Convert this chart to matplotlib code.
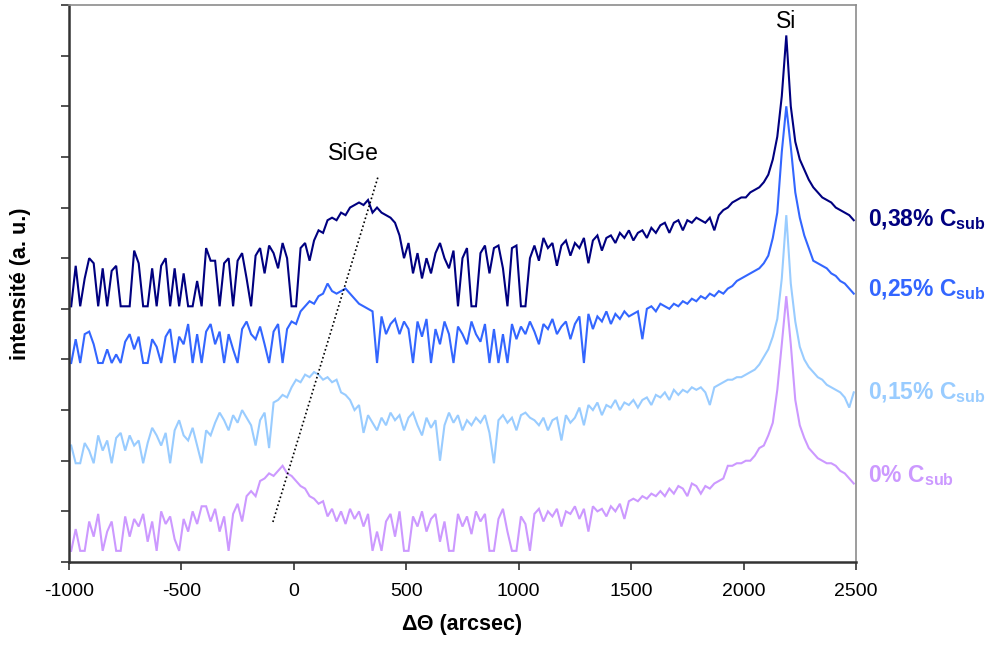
import numpy as np
import matplotlib
matplotlib.use("Agg")
import matplotlib.pyplot as plt

plt.rcParams['font.family'] = ['Liberation Sans', 'DejaVu Sans']
plt.rcParams['axes.unicode_minus'] = False
plt.rcParams['mathtext.fontset'] = 'custom'
plt.rcParams['mathtext.rm'] = 'Liberation Sans'
plt.rcParams['mathtext.bf'] = 'Liberation Sans:bold'

# angle grid (arcsec), one reading every 20 arcsec
theta = np.arange(-990, 2491, 20)

# intensities (a.u., vertically offset curves as drawn)
c038 = [5.05, 5.85, 5.05, 5.6, 6.0, 5.9, 5.05, 5.8, 5.05, 5.75,
        5.85, 5.05, 5.05, 5.05, 6.15, 5.9, 5.05, 5.05, 5.8, 5.05,
        5.85, 6.0, 5.05, 5.8, 5.05, 5.7, 5.05, 5.05, 5.55, 5.05,
        6.2, 5.95, 5.95, 5.05, 5.9, 6.0, 5.05, 5.95, 6.1, 5.6,
        5.05, 6.05, 6.2, 5.7, 6.25, 6.1, 5.8, 6.3, 6.0, 5.05,
        5.05, 6.2, 6.3, 5.95, 6.35, 6.55, 6.5, 6.75, 6.8, 6.75,
        6.9, 6.85, 7.0, 7.05, 7.1, 7.05, 7.15, 6.9, 7.0, 6.9,
        6.85, 6.8, 6.7, 6.45, 6.0, 6.3, 5.7, 6.1, 5.6, 6.0,
        5.7, 6.1, 6.3, 6.0, 5.8, 6.15, 5.05, 6.0, 6.2, 5.05,
        5.05, 6.1, 6.25, 5.7, 6.2, 6.25, 5.8, 5.05, 6.2, 6.25,
        5.05, 5.05, 6.0, 6.25, 5.95, 6.4, 6.2, 6.3, 5.85, 6.25,
        6.35, 6.05, 6.3, 6.2, 6.4, 5.9, 6.35, 6.45, 6.15, 6.4,
        6.45, 6.3, 6.5, 6.4, 6.55, 6.35, 6.5, 6.55, 6.4, 6.6,
        6.5, 6.65, 6.7, 6.5, 6.7, 6.75, 6.55, 6.75, 6.7, 6.8,
        6.75, 6.7, 6.8, 6.55, 6.85, 6.95, 7.0, 7.1, 7.15, 7.2,
        7.2, 7.3, 7.35, 7.4, 7.5, 7.65, 7.95, 8.4, 9.2, 10.4,
        9.0, 8.3, 7.95, 7.75, 7.55, 7.4, 7.3, 7.2, 7.15, 7.1,
        7.0, 6.95, 6.9, 6.85, 6.75]

c025 = [3.93, 4.4, 3.93, 4.5, 4.55, 4.3, 3.93, 3.93, 4.2, 3.93,
        4.1, 3.93, 4.35, 4.5, 4.2, 4.45, 3.93, 3.93, 4.4, 4.25,
        3.93, 4.45, 4.6, 3.93, 4.45, 4.3, 4.7, 3.93, 4.5, 3.93,
        4.55, 4.7, 4.3, 4.55, 3.93, 4.5, 4.2, 3.93, 4.6, 4.75,
        4.5, 4.4, 4.65, 4.3, 3.93, 4.55, 4.7, 3.93, 4.6, 4.75,
        4.7, 4.95, 5.05, 5.15, 5.1, 5.25, 5.3, 5.5, 5.35, 5.3,
        5.35, 5.4, 5.3, 5.2, 5.1, 5.05, 5.0, 4.95, 3.93, 4.85,
        4.5, 4.7, 4.8, 4.5, 4.75, 4.6, 3.93, 4.75, 4.45, 4.8,
        3.93, 4.6, 4.3, 4.75, 4.5, 3.93, 4.65, 4.5, 4.3, 4.75,
        4.5, 4.35, 4.7, 3.93, 4.6, 3.93, 4.5, 3.93, 4.7, 4.4,
        4.65, 4.5, 4.75, 4.55, 4.3, 4.7, 4.6, 4.8, 4.5, 4.65,
        4.75, 4.4, 4.7, 4.85, 3.93, 4.9, 4.6, 4.85, 4.75, 4.95,
        4.7, 4.9, 4.8, 4.95, 4.85, 4.9, 4.95, 4.4, 5.0, 5.05,
        4.95, 5.1, 5.05, 5.0, 5.1, 5.05, 5.15, 5.1, 5.2, 5.15,
        5.25, 5.2, 5.3, 5.25, 5.35, 5.3, 5.4, 5.45, 5.55, 5.6,
        5.65, 5.7, 5.75, 5.8, 5.9, 6.05, 6.4, 6.9, 8.1, 9.0,
        8.2, 7.3, 6.8, 6.45, 6.2, 5.95, 5.9, 5.85, 5.8, 5.7,
        5.65, 5.55, 5.5, 5.4, 5.3]

c015 = [2.3, 1.95, 1.95, 2.35, 2.2, 1.95, 2.5, 2.2, 2.4, 1.95,
        2.45, 2.55, 2.2, 2.5, 2.3, 2.4, 1.95, 2.35, 2.65, 2.5,
        2.3, 2.55, 1.95, 2.6, 2.8, 2.5, 2.4, 2.65, 2.3, 1.95,
        2.6, 2.5, 2.75, 2.95, 2.8, 2.6, 2.9, 2.75, 3.0, 2.85,
        2.7, 2.3, 2.8, 2.95, 2.25, 3.15, 3.2, 3.3, 3.25, 3.45,
        3.6, 3.55, 3.7, 3.65, 3.75, 3.7, 3.6, 3.65, 3.55, 3.6,
        3.35, 3.3, 3.2, 3.0, 3.1, 2.55, 2.9, 2.75, 2.6, 2.85,
        2.7, 2.95, 2.8, 2.9, 2.6, 2.85, 2.95, 2.7, 2.5, 2.85,
        2.65, 2.8, 2.0, 2.7, 2.95, 2.75, 2.9, 2.6, 2.8, 2.7,
        2.85, 2.75, 2.9, 2.55, 1.95, 2.8, 2.9, 2.75, 2.85, 2.6,
        2.9, 2.95, 2.85, 2.8, 2.7, 2.85, 2.6, 2.8, 2.85, 2.4,
        2.9, 2.75, 2.85, 3.05, 2.7, 3.1, 3.0, 3.15, 2.9, 3.1,
        3.05, 3.2, 3.0, 3.15, 3.1, 3.2, 3.05, 3.2, 3.25, 3.1,
        3.3, 3.25, 3.35, 3.2, 3.4, 3.3, 3.4, 3.35, 3.45, 3.4,
        3.45, 3.35, 3.1, 3.45, 3.5, 3.55, 3.6, 3.6, 3.65, 3.65,
        3.7, 3.75, 3.8, 3.9, 4.05, 4.2, 4.45, 4.8, 5.6, 6.85,
        5.5, 4.75, 4.25, 4.0, 3.85, 3.75, 3.65, 3.6, 3.5, 3.45,
        3.4, 3.35, 3.25, 3.05, 3.35]

c000 = [0.22, 0.65, 0.22, 0.22, 0.8, 0.5, 0.95, 0.22, 0.6, 0.8,
        0.22, 0.22, 0.9, 0.5, 0.85, 0.7, 0.95, 0.4, 0.8, 0.22,
        1.0, 0.75, 0.9, 0.45, 0.22, 0.85, 0.6, 1.0, 0.75, 1.1,
        1.1, 0.8, 1.05, 0.6, 0.9, 0.22, 0.95, 1.15, 0.8, 1.3,
        1.4, 1.3, 1.6, 1.65, 1.75, 1.7, 1.8, 1.9, 1.75, 1.7,
        1.6, 1.5, 1.45, 1.3, 1.25, 1.15, 1.2, 0.9, 1.05, 0.8,
        1.0, 0.75, 1.05, 0.85, 1.0, 0.7, 0.95, 0.22, 0.6, 0.22,
        0.8, 0.95, 0.5, 1.0, 0.22, 0.22, 0.9, 0.7, 1.0, 0.6,
        0.85, 0.95, 0.4, 0.8, 0.22, 0.22, 0.95, 0.7, 0.9, 0.55,
        1.0, 0.8, 0.95, 0.22, 0.22, 0.85, 1.05, 0.6, 0.22, 0.22,
        0.9, 0.75, 0.22, 0.95, 1.05, 0.8, 1.0, 0.9, 1.05, 0.7,
        1.0, 0.95, 1.1, 0.85, 1.05, 0.6, 1.1, 1.0, 1.05, 0.9,
        1.1, 1.0, 1.15, 0.85, 1.2, 1.25, 1.2, 1.3, 1.25, 1.35,
        1.3, 1.4, 1.3, 1.45, 1.35, 1.5, 1.45, 1.3, 1.55, 1.5,
        1.35, 1.5, 1.45, 1.55, 1.6, 1.65, 1.9, 1.9, 1.95, 1.95,
        2.0, 2.0, 2.1, 2.25, 2.3, 2.5, 2.75, 3.4, 4.3, 5.25,
        4.3, 3.2, 2.7, 2.45, 2.25, 2.15, 2.05, 2.0, 1.95, 1.95,
        1.9, 1.8, 1.75, 1.65, 1.55]

series_labels = ['0,38% C', '0,25% C', '0,15% C', '0% C']
series_colors = ['#000080', '#3366FF', '#99CCFF', '#CC99FF']
label_y = [6.77, 5.37, 3.34, 1.70]

# SiGe guide line end points (arcsec, a.u.)
guide_x = [-93, 374]
guide_y = [0.79, 7.6]

xticks = [-1000, -500, 0, 500, 1000, 1500, 2000, 2500]

fig = plt.figure(figsize=(9.95, 6.45), dpi=100)
ax = fig.add_axes([0.0693, 0.1287, 0.7910, 0.8635])

all_series = [c038, c025, c015, c000]
for vals, col in zip(all_series[::-1], series_colors[::-1]):
    ax.plot(theta, vals, color=col, lw=1.5, solid_joinstyle='miter')

ax.plot(guide_x, guide_y, color='black', lw=1.2, ls=(0, (1, 1.5)))

ax.set_xlim(-1000, 2500)
ax.set_ylim(0, 11)
ax.set_xticks(xticks)
ax.set_xticklabels([str(t) for t in xticks], fontsize=14)
ax.set_yticks(range(0, 12))
ax.set_yticklabels([])
ax.tick_params(axis='both', direction='out', length=6, width=1.2, color='#333333')
ax.tick_params(axis='x', pad=9)

for s in ['left', 'bottom']:
    ax.spines[s].set_color('#333333')
    ax.spines[s].set_linewidth(1.8)
for s in ['top', 'right']:
    ax.spines[s].set_color('#8c8c8c')
    ax.spines[s].set_linewidth(1.2)

ax.set_xlabel('ΔΘ (arcsec)', fontsize=15.5, fontweight='bold', labelpad=10)
ax.set_ylabel('intensité (a. u.)', fontsize=15.5, fontweight='bold', labelpad=18)

for lab, col, yv in zip(series_labels, series_colors, label_y):
    ax.text(2553, yv, lab + r'$_{\mathbf{sub}}$', color=col, fontsize=16.5,
            fontweight='bold', ha='left', va='center', clip_on=False)

ax.text(2190, 10.67, 'Si', fontsize=16.5, ha='center', va='center')
ax.text(263, 8.06, 'SiGe', fontsize=16.5, ha='center', va='center')

fig.savefig('out.png', dpi=100)
